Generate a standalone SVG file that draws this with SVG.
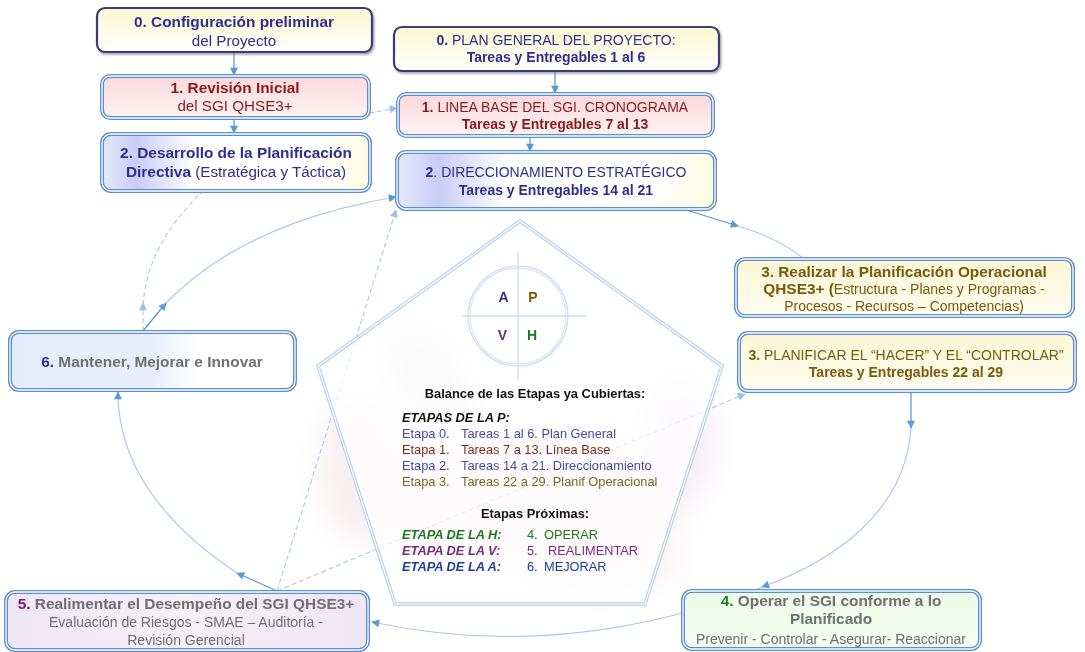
<svg xmlns="http://www.w3.org/2000/svg" width="1085" height="652" viewBox="0 0 1085 652">
  <defs>
    <style>
      text { font-family: "Liberation Sans", Arial, sans-serif; font-size: 14px; text-anchor: middle; }
      .b { font-weight: bold; }
      .h { font-weight: bold; font-size: 15.4px; }
      .lc { font-size: 15.2px; }
      .navy { fill: #2e2e8f; }
      .red { fill: #8b1a1a; }
      .olive { fill: #7a5a0c; }
      .gray { fill: #707070; }
      .dbl-out { stroke: #5b8fd0; stroke-width: 4; }
      .dbl-in { fill: none; stroke: #ffffff; stroke-width: 1.3; }
      .thick { stroke: #3b3b78; stroke-width: 2.2; }
      .arrow { fill: none; stroke: #5b9bd5; stroke-width: 1.3; }
      .soft { fill: none; stroke: #a9c9ec; stroke-width: 1.2; }
      .dash { fill: none; stroke: #a9c9ec; stroke-width: 1.1; stroke-dasharray: 5 3; }
      .list { font-size: 12.8px; text-anchor: start; }
      .head { font-size: 12.9px; font-weight: bold; fill: #111111; }
    </style>
    <marker id="tip" viewBox="0 0 10 10" refX="9" refY="5" markerWidth="9" markerHeight="8" markerUnits="userSpaceOnUse" orient="auto">
      <path d="M0,0 L10,5 L0,10 z" fill="#5b9bd5"/>
    </marker>
    <marker id="tipSoft" viewBox="0 0 10 10" refX="9" refY="5" markerWidth="9" markerHeight="8" markerUnits="userSpaceOnUse" orient="auto">
      <path d="M0,0 L10,5 L0,10 z" fill="#9cc0ea"/>
    </marker>
    <linearGradient id="gYellow" x1="0" y1="0" x2="0" y2="1">
      <stop offset="0" stop-color="#fbf7cf"/>
      <stop offset="1" stop-color="#ffffff"/>
    </linearGradient>
    <linearGradient id="gPink" x1="0" y1="0" x2="0" y2="1">
      <stop offset="0" stop-color="#fbd8dc"/>
      <stop offset="1" stop-color="#fff3f3"/>
    </linearGradient>
    <linearGradient id="gLav" x1="0" y1="0" x2="1" y2="0">
      <stop offset="0" stop-color="#e6e8fb"/>
      <stop offset="0.13" stop-color="#c9cdf6"/>
      <stop offset="0.35" stop-color="#ffffff"/>
      <stop offset="0.8" stop-color="#ffffff"/>
      <stop offset="1" stop-color="#fcfbe0"/>
    </linearGradient>
    <linearGradient id="gCream" x1="0" y1="0" x2="0" y2="1">
      <stop offset="0" stop-color="#fdf6d6"/>
      <stop offset="1" stop-color="#fffcef"/>
    </linearGradient>
    <linearGradient id="gBlue6" x1="0" y1="0" x2="1" y2="0">
      <stop offset="0" stop-color="#e4ecfb"/>
      <stop offset="0.5" stop-color="#e8eefc"/>
      <stop offset="0.66" stop-color="#ffffff"/>
      <stop offset="1" stop-color="#ffffff"/>
    </linearGradient>
    <linearGradient id="gGreen" x1="0" y1="0" x2="0" y2="1">
      <stop offset="0" stop-color="#eefbe8"/>
      <stop offset="1" stop-color="#f4fcf1"/>
    </linearGradient>
    <linearGradient id="gPurple" x1="0" y1="0" x2="1" y2="0">
      <stop offset="0" stop-color="#efe6f6"/>
      <stop offset="0.5" stop-color="#f6f0f9"/>
      <stop offset="1" stop-color="#efe6f6"/>
    </linearGradient>
    <filter id="haze" x="-50%" y="-50%" width="200%" height="200%">
      <feGaussianBlur stdDeviation="14"/>
    </filter>
    <filter id="shadow" x="-10%" y="-20%" width="120%" height="150%">
      <feDropShadow dx="1.5" dy="2" stdDeviation="1.2" flood-color="#777777" flood-opacity="0.6"/>
    </filter>
  </defs>

  <rect width="1085" height="652" fill="#ffffff"/>

  <!-- faint photographic backdrop behind the cycle -->
  <g id="backdrop" filter="url(#haze)" opacity="0.55">
    <ellipse cx="520" cy="500" rx="170" ry="60" fill="#efe2e2"/>
    <ellipse cx="360" cy="470" rx="40" ry="70" fill="#f1e2e4"/>
    <ellipse cx="430" cy="380" rx="30" ry="60" fill="#e6e0e2" transform="rotate(-35 430 380)"/>
    <ellipse cx="680" cy="440" rx="35" ry="60" fill="#ecdff0"/>
    <ellipse cx="600" cy="560" rx="80" ry="30" fill="#f3e6e6"/>
  </g>

  <!-- connectors -->
  <g id="connectors">
    <path class="arrow" d="M234,52 L234,75" marker-end="url(#tip)"/>
    <path class="arrow" d="M234,118 L234,133" marker-end="url(#tip)"/>
    <path class="arrow" d="M555,71 L555,93" marker-end="url(#tip)"/>
    <path class="arrow" d="M530,137 L530,151" marker-end="url(#tip)"/>
    <path class="dash" d="M369,113 L397,108" marker-end="url(#tipSoft)"/>
    <path class="dash" d="M143,331 L143,303" marker-end="url(#tipSoft)"/>
    <path class="dash" d="M143,305 Q147,245 202,192"/>
    <path class="arrow" d="M143,331 L166,303" marker-end="url(#tip)"/>
    <path class="soft" d="M166,303 Q245,222 396,197" marker-end="url(#tip)"/>
    <path class="dash" d="M277,591 L396,210" marker-end="url(#tipSoft)"/>
    <path class="dash" d="M277,591 L745,394" marker-end="url(#tipSoft)"/>
    <path class="arrow" d="M683,209 L738,226" marker-end="url(#tip)"/>
    <path class="soft" d="M738,226 Q778,238 803,258"/>
    <path class="arrow" d="M911,391 L911,428" marker-end="url(#tip)"/>
    <path class="soft" d="M911,428 C905,515 830,562 762,587" marker-end="url(#tip)"/>
    <path class="soft" d="M762,587 L752,591"/>
    <path class="soft" d="M683,613 Q525,655 372,622" marker-end="url(#tip)"/>
    <path class="arrow" d="M277,591 L237,573" marker-end="url(#tip)"/>
    <path class="soft" d="M237,573 C165,525 118,465 118,392" marker-end="url(#tip)"/>
  </g>

  <!-- central PDCA pentagon -->
  <g id="pentagon">
    <polygon points="520,221 722,366 645,604 395,604 318,366" fill="#ffffff" fill-opacity="0.72" stroke="#b9d1ee" stroke-width="3.6"/>
    <polygon points="520,221 722,366 645,604 395,604 318,366" fill="none" stroke="#ffffff" stroke-width="1.2"/>
    <circle cx="518" cy="316" r="49" fill="none" stroke="#c9dbf1" stroke-width="3"/>
    <circle cx="518" cy="316" r="49" fill="none" stroke="#ffffff" stroke-width="1"/>
    <line x1="463" y1="316" x2="587" y2="316" stroke="#c9dbf1" stroke-width="1.3"/>
    <line x1="518" y1="252" x2="518" y2="380" stroke="#c9dbf1" stroke-width="1.3"/>
    <text x="503.5" y="302" class="b" font-size="13.5" fill="#2e2e8f">A</text>
    <text x="533" y="302" class="b" font-size="13.5" fill="#7a5a0c">P</text>
    <text x="502.5" y="340" class="b" font-size="13.5" fill="#6b2a78">V</text>
    <text x="532" y="340" class="b" font-size="13.5" fill="#1e7a1e">H</text>

    <text x="535" y="398" class="head">Balance de las Etapas ya Cubiertas:</text>
    <text x="402" y="422" class="list b" font-style="italic" fill="#111111">ETAPAS DE LA P:</text>
    <text x="402" y="438" class="list" fill="#4a4aa0">Etapa 0.<tspan x="461">Tareas 1 al 6. Plan General</tspan></text>
    <text x="402" y="454" class="list" fill="#8b1e1e">Etapa 1.<tspan x="461">Tareas 7 a 13. Línea Base</tspan></text>
    <text x="402" y="470" class="list" fill="#4a4aa0">Etapa 2.<tspan x="461">Tareas 14 a 21. Direccionamiento</tspan></text>
    <text x="402" y="486" class="list" fill="#7f6522">Etapa 3.<tspan x="461">Tareas 22 a 29. Planif Operacional</tspan></text>

    <text x="535" y="518" class="head">Etapas Próximas:</text>
    <text x="402" y="539" class="list b" font-style="italic" fill="#1e7a1e">ETAPA DE LA H:</text>
    <text x="527" y="539" class="list" fill="#1e7a1e">4.<tspan x="544">OPERAR</tspan></text>
    <text x="402" y="555" class="list b" font-style="italic" fill="#7a2a80">ETAPA DE LA V:</text>
    <text x="527" y="555" class="list" fill="#7a2a80">5.<tspan x="548">REALIMENTAR</tspan></text>
    <text x="402" y="571" class="list b" font-style="italic" fill="#1f3f9a">ETAPA DE LA A:</text>
    <text x="527" y="571" class="list" fill="#1f3f9a">6.<tspan x="544">MEJORAR</tspan></text>
  </g>

  <!-- left column -->
  <g id="config-preliminar">
    <rect x="97" y="8" width="275" height="44" rx="8" fill="url(#gYellow)" class="thick" filter="url(#shadow)"/>
    <text x="234" y="27" class="h navy">0. Configuración preliminar</text>
    <text x="234" y="46" class="lc navy">del Proyecto</text>
  </g>

  <g id="revision-inicial">
    <rect x="102" y="76" width="267" height="42" rx="8" fill="url(#gPink)" class="dbl-out"/>
    <rect x="102" y="76" width="267" height="42" rx="8" class="dbl-in"/>
    <text x="235" y="93" class="h red">1. Revisión Inicial</text>
    <text x="235" y="111" class="lc red">del SGI QHSE3+</text>
  </g>

  <g id="planificacion-directiva">
    <rect x="102" y="134" width="268" height="57" rx="9" fill="url(#gLav)" class="dbl-out"/>
    <rect x="102" y="134" width="268" height="57" rx="9" class="dbl-in"/>
    <text x="236" y="158" class="h navy">2. Desarrollo de la Planificación</text>
    <text x="236" y="177" class="lc navy"><tspan class="h">Directiva</tspan> (Estratégica y Táctica)</text>
  </g>

  <!-- centre column -->
  <g id="plan-general">
    <rect x="394" y="27" width="325" height="44" rx="8" fill="url(#gYellow)" class="thick" filter="url(#shadow)"/>
    <text x="556" y="45" class="navy"><tspan class="b">0.</tspan> PLAN GENERAL DEL PROYECTO:</text>
    <text x="556" y="62" class="b navy">Tareas y Entregables 1 al 6</text>
  </g>

  <g id="linea-base">
    <rect x="398" y="94" width="315" height="42" rx="8" fill="url(#gPink)" class="dbl-out"/>
    <rect x="398" y="94" width="315" height="42" rx="8" class="dbl-in"/>
    <text x="555" y="112" class="red"><tspan class="b">1.</tspan> LINEA BASE DEL SGI. CRONOGRAMA</text>
    <text x="555" y="129" class="b red">Tareas y Entregables 7 al 13</text>
  </g>

  <g id="direccionamiento">
    <rect x="397" y="152" width="318" height="57" rx="9" fill="url(#gLav)" class="dbl-out"/>
    <rect x="397" y="152" width="318" height="57" rx="9" class="dbl-in"/>
    <text x="556" y="177" class="navy"><tspan class="b">2</tspan>. DIRECCIONAMIENTO ESTRATÉGICO</text>
    <text x="556" y="195" class="b navy">Tareas y Entregables 14 al 21</text>
  </g>

  <!-- right column -->
  <g id="planificacion-operacional">
    <rect x="736" y="259" width="337" height="57" rx="9" fill="url(#gCream)" class="dbl-out"/>
    <rect x="736" y="259" width="337" height="57" rx="9" class="dbl-in"/>
    <text x="904" y="277" class="h olive">3. Realizar la Planificación Operacional</text>
    <text x="904" y="294" class="olive" font-size="14.2"><tspan class="h">QHSE3+ (</tspan>Estructura - Planes y Programas -</text>
    <text x="904" y="311" class="olive" font-size="14.2">Procesos - Recursos – Competencias)</text>
  </g>

  <g id="planificar-hacer">
    <rect x="739" y="333" width="336" height="58" rx="9" fill="url(#gCream)" class="dbl-out"/>
    <rect x="739" y="333" width="336" height="58" rx="9" class="dbl-in"/>
    <text x="906" y="360" class="olive" font-size="13.6"><tspan class="b">3.</tspan> PLANIFICAR EL “HACER” Y EL “CONTROLAR”</text>
    <text x="906" y="377" class="b olive">Tareas y Entregables 22 al 29</text>
  </g>

  <!-- bottom and left boxes -->
  <g id="operar">
    <rect x="683" y="591" width="297" height="58" rx="9" fill="url(#gGreen)" class="dbl-out"/>
    <rect x="683" y="591" width="297" height="58" rx="9" class="dbl-in"/>
    <text x="831" y="606" class="h gray"><tspan fill="#1e7a1e">4.</tspan> Operar el SGI conforme a lo</text>
    <text x="831" y="624" class="h gray">Planificado</text>
    <text x="831" y="644" class="gray">Prevenir - Controlar - Asegurar- Reaccionar</text>
  </g>

  <g id="realimentar">
    <rect x="6" y="592" width="362" height="58" rx="9" fill="url(#gPurple)" class="dbl-out"/>
    <rect x="6" y="592" width="362" height="58" rx="9" class="dbl-in"/>
    <text x="186" y="609" class="h gray"><tspan fill="#6b1f6b">5.</tspan> Realimentar el Desempeño del SGI QHSE3+</text>
    <text x="186" y="627" class="gray">Evaluación de Riesgos - SMAE – Auditoría -</text>
    <text x="186" y="645" class="gray">Revisión  Gerencial</text>
  </g>

  <g id="mantener">
    <rect x="10" y="332" width="285" height="58" rx="9" fill="url(#gBlue6)" class="dbl-out"/>
    <rect x="10" y="332" width="285" height="58" rx="9" class="dbl-in"/>
    <text x="152" y="367" class="h gray"><tspan fill="#2e2e8f">6.</tspan> Mantener, Mejorar e Innovar</text>
  </g>
</svg>
